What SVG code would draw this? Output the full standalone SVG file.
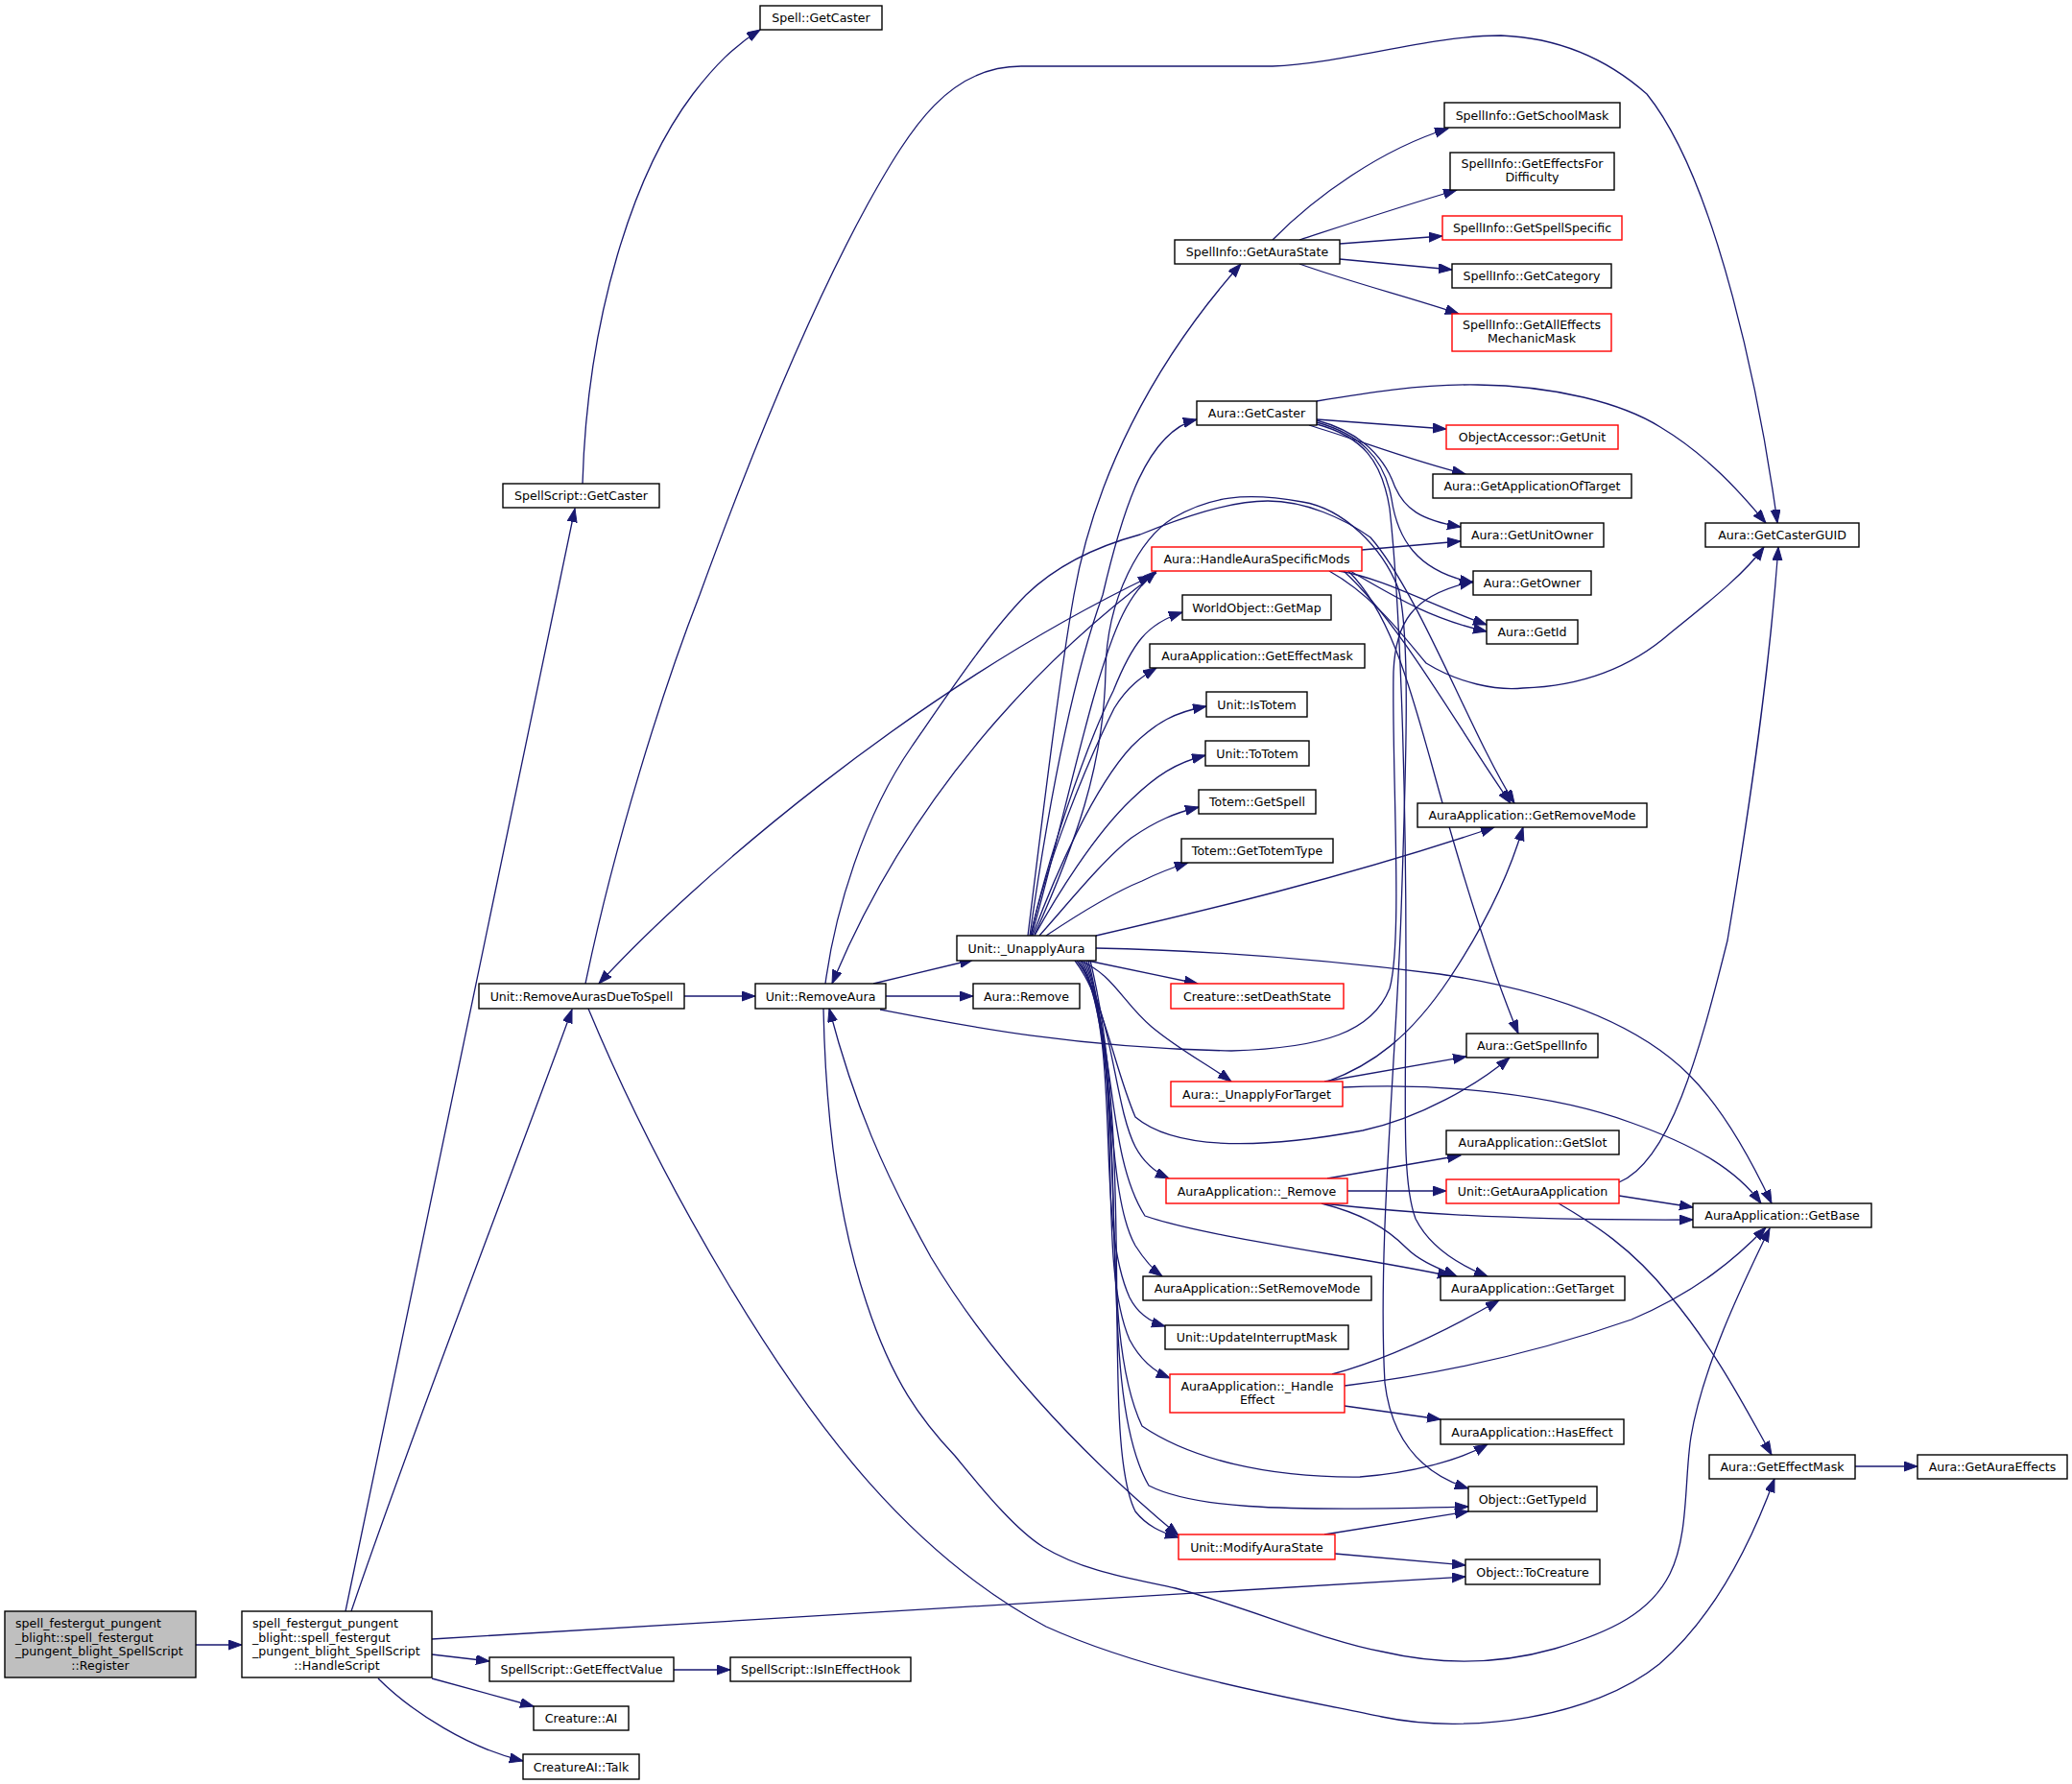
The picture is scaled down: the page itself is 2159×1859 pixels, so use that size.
<svg xmlns="http://www.w3.org/2000/svg" width="2159" height="1859" viewBox="0 0 2159 1859">
<defs>
<marker id="ah" markerWidth="15" markerHeight="11" refX="14" refY="5" orient="auto" markerUnits="userSpaceOnUse"><path d="M0,0 L14,5 L0,10 z" fill="#191970" stroke="#191970" stroke-width="1"/></marker>
<marker id="as" markerWidth="15" markerHeight="11" refX="14" refY="5" orient="auto-start-reverse" markerUnits="userSpaceOnUse"><path d="M0,0 L14,5 L0,10 z" fill="#191970" stroke="#191970" stroke-width="1"/></marker>
</defs>
<style>
.n rect{fill:#fff;stroke:#000;stroke-width:1.4}
.r rect{stroke:#ff0000}
.g rect{fill:#bfbfbf}
text{font-family:"DejaVu Sans","Liberation Sans",sans-serif;font-size:12.6px;fill:#000;text-anchor:middle}
text.l{text-anchor:start}
#edges path{fill:none;stroke:#191970;stroke-width:1.3;marker-end:url(#ah)}
#edges path.b{marker-start:url(#as)}
</style>
<rect width="2159" height="1859" fill="#fff"/>
<g id="edges">
<path d="M204,1714 L252,1714"/>
<path d="M360,1679 L599,530"/>
<path d="M607,504 C612,330 660,180 722,98 C745,68 765,48 792,31"/>
<path d="M366,1679 C430,1490 550,1180 596,1052"/>
<path d="M450,1708 L1527,1643"/>
<path d="M450,1724 L510,1731"/>
<path d="M450,1749 L556,1778"/>
<path d="M394,1749 C430,1785 490,1822 545,1835"/>
<path d="M702,1740 L761,1740"/>
<path d="M713,1038 L787,1038"/>
<path d="M610,1025 C640,880 690,720 729,620 C780,480 840,330 904,213 C950,130 990,69 1064,69 L1326,69 C1400,66 1490,37 1564,37 C1640,40 1690,75 1716,98 C1790,190 1835,420 1852,545"/>
<path d="M613,1051 C650,1140 700,1240 760,1340 C850,1490 950,1620 1090,1695 C1200,1745 1350,1770 1440,1789 C1530,1808 1660,1790 1729,1734 C1780,1690 1820,1620 1849,1541"/>
<path d="M1933,1528 L1998,1528"/>
<path d="M910,1025 L1014,1000"/>
<path d="M923,1038 L1014,1038"/>
<path d="M917,1052 C1000,1068 1120,1092 1283,1095 C1380,1092 1430,1075 1448,1030 C1462,980 1450,800 1452,700 C1454,650 1470,620 1535,606"/>
<path d="M1326,250 C1370,205 1440,155 1509,134"/>
<path d="M1354,250 C1400,235 1460,215 1518,198"/>
<path d="M1396,254 L1503,246"/>
<path d="M1396,270 L1513,281"/>
<path d="M1354,275 C1410,295 1470,310 1520,327"/>
<path d="M1071,975 C1090,820 1105,700 1119,620 C1140,500 1200,380 1293,275"/>
<path d="M1073,975 C1095,820 1120,700 1149,620 C1170,530 1195,450 1247,437"/>
<path d="M1075,975 C1110,850 1140,700 1170,640 C1180,620 1190,608 1205,595"/>
<path d="M1074,975 C1090,900 1130,780 1160,720 C1180,670 1195,650 1232,638"/>
<path d="M1074,975 C1090,900 1130,800 1161,738 C1175,715 1190,705 1205,696"/>
<path d="M1076,975 C1100,910 1140,820 1179,778 C1205,752 1225,742 1257,736"/>
<path d="M1078,975 C1100,935 1140,870 1179,833 C1205,808 1225,795 1256,787"/>
<path d="M1083,975 C1110,945 1150,895 1179,873 C1205,855 1225,847 1249,841"/>
<path d="M1090,975 C1120,955 1160,930 1190,918 C1210,908 1225,903 1238,899"/>
<path d="M1142,975 C1250,950 1400,915 1557,862"/>
<path d="M1078,974 C1120,880 1150,800 1152,700 C1153,620 1190,560 1222,540 C1260,518 1296,512 1357,523 C1400,530 1440,570 1457,613 C1470,660 1465,800 1460,950 C1455,1100 1435,1300 1443,1441 C1450,1500 1480,1535 1530,1551"/>
<path d="M860,1025 C870,950 900,850 950,778 C990,720 1030,660 1069,620 C1100,590 1140,570 1188,557 C1230,540 1280,522 1321,522 C1360,522 1400,540 1428,560 C1480,620 1530,760 1578,837"/>
<path d="M1205,597 C1120,660 960,800 867,1025"/>
<path class="b" d="M624,1025 C720,920 950,720 1200,600"/>
<path d="M1133,1001 L1248,1025"/>
<path d="M1125,1001 C1160,1015 1170,1045 1200,1070 C1230,1095 1260,1110 1283,1127"/>
<path d="M1120,1001 C1150,1040 1160,1110 1183,1164 C1220,1195 1300,1200 1420,1178 C1480,1165 1540,1130 1573,1102"/>
<path d="M1122,1001 C1160,1050 1160,1150 1183,1195 C1192,1212 1205,1222 1218,1228"/>
<path d="M1124,1001 C1165,1070 1150,1200 1193,1267 C1260,1290 1420,1310 1512,1330"/>
<path d="M1126,1001 C1165,1080 1150,1240 1183,1298 C1192,1312 1200,1322 1211,1330"/>
<path d="M1128,1001 C1170,1100 1140,1270 1177,1352 C1185,1368 1197,1377 1214,1382"/>
<path d="M1130,1001 C1175,1120 1140,1310 1177,1396 C1187,1415 1200,1428 1219,1436"/>
<path d="M1132,1001 C1180,1150 1140,1380 1190,1486 C1240,1520 1320,1540 1417,1539 C1470,1535 1520,1522 1550,1505"/>
<path d="M1134,1001 C1180,1180 1140,1450 1197,1548 C1240,1570 1320,1576 1530,1570"/>
<path d="M1136,1001 C1185,1200 1145,1500 1183,1575 C1195,1590 1210,1597 1228,1602"/>
<path d="M1142,988 C1250,990 1380,1000 1500,1015 C1600,1030 1700,1060 1760,1120 C1800,1160 1830,1220 1846,1254"/>
<path class="b" d="M1228,1600 C1120,1510 1030,1410 970,1310 C920,1220 890,1150 864,1051"/>
<path d="M1380,1599 L1530,1575"/>
<path d="M1391,1619 L1527,1631"/>
<path d="M858,1051 C860,1150 870,1260 903,1358 C930,1440 960,1480 995,1517 C1030,1560 1060,1595 1087,1612 C1130,1638 1180,1645 1225,1655 C1300,1675 1380,1710 1440,1721 C1500,1735 1560,1735 1620,1718 C1680,1700 1720,1680 1740,1640 C1760,1600 1755,1540 1762,1497 C1775,1420 1820,1330 1844,1280"/>
<path d="M1372,418 C1420,410 1480,400 1540,401 C1620,402 1690,420 1730,445 C1780,475 1815,515 1840,545"/>
<path d="M1372,437 L1507,447"/>
<path d="M1364,443 C1420,460 1470,480 1527,494"/>
<path d="M1372,438 C1410,448 1440,470 1453,506 C1463,530 1480,542 1522,549"/>
<path d="M1372,440 C1415,452 1442,475 1450,520 C1456,560 1475,595 1535,607"/>
<path d="M1372,442 C1420,455 1440,480 1448,530 C1458,620 1465,800 1465,1000 C1465,1150 1460,1230 1475,1270 C1490,1300 1520,1318 1550,1330"/>
<path d="M1419,573 L1522,564"/>
<path d="M1395,595 C1440,602 1490,630 1549,651"/>
<path d="M1407,595 C1450,620 1490,645 1549,658"/>
<path d="M1400,595 C1460,650 1520,760 1574,837"/>
<path d="M1405,595 C1450,640 1470,720 1490,790 C1520,900 1550,1000 1582,1077"/>
<path d="M1385,595 C1430,620 1460,660 1486,691 C1520,712 1560,720 1587,717 C1650,715 1700,695 1740,660 C1790,620 1820,595 1838,570"/>
<path d="M1383,1127 C1430,1110 1470,1080 1510,1020 C1540,975 1570,920 1587,862"/>
<path d="M1380,1127 L1528,1101"/>
<path d="M1399,1133 C1500,1128 1620,1140 1700,1170 C1770,1195 1810,1220 1835,1254"/>
<path d="M1383,1228 L1522,1204"/>
<path d="M1404,1241 L1507,1241"/>
<path d="M1377,1254 C1450,1262 1550,1272 1764,1271"/>
<path d="M1377,1254 C1420,1265 1445,1280 1465,1300 C1480,1315 1500,1322 1518,1330"/>
<path d="M1687,1232 C1740,1210 1770,1100 1800,980 C1830,800 1845,680 1853,570"/>
<path d="M1687,1246 L1764,1258"/>
<path d="M1624,1254 C1660,1275 1700,1300 1740,1350 C1790,1410 1820,1470 1846,1516"/>
<path d="M1388,1432 C1450,1415 1510,1385 1562,1355"/>
<path d="M1401,1444 C1500,1432 1600,1410 1700,1375 C1770,1345 1810,1310 1840,1279"/>
<path d="M1401,1465 L1501,1479"/>
</g>
<g id="n_register" class="n g"><rect x="5" y="1679" width="199" height="69"/><text class="l" x="16" y="1696">spell_festergut_pungent</text><text class="l" x="16" y="1710.5">_blight::spell_festergut</text><text class="l" x="16" y="1725">_pungent_blight_SpellScript</text><text x="104.5" y="1740">::Register</text></g>
<g id="n_handlescript" class="n"><rect x="252" y="1679" width="198" height="69"/><text class="l" x="263" y="1696">spell_festergut_pungent</text><text class="l" x="263" y="1710.5">_blight::spell_festergut</text><text class="l" x="263" y="1725">_pungent_blight_SpellScript</text><text x="351" y="1740">::HandleScript</text></g>
<g id="n_ss_getcaster" class="n"><rect x="524" y="504" width="163" height="25"/><text x="605.5" y="521">SpellScript::GetCaster</text></g>
<g id="n_spell_getcaster" class="n"><rect x="792" y="6" width="127" height="25"/><text x="855.5" y="23">Spell::GetCaster</text></g>
<g id="n_getaurastate" class="n"><rect x="1224" y="250" width="172" height="25"/><text x="1310" y="267">SpellInfo::GetAuraState</text></g>
<g id="n_schoolmask" class="n"><rect x="1505" y="107" width="183" height="26"/><text x="1596.5" y="124.5">SpellInfo::GetSchoolMask</text></g>
<g id="n_effectsfordiff" class="n"><rect x="1511" y="159" width="171" height="39"/><text x="1596.5" y="175">SpellInfo::GetEffectsFor</text><text x="1596.5" y="189">Difficulty</text></g>
<g id="n_spellspecific" class="n r"><rect x="1503" y="225" width="187" height="25"/><text x="1596.5" y="242">SpellInfo::GetSpellSpecific</text></g>
<g id="n_category" class="n"><rect x="1513" y="275" width="166" height="25"/><text x="1596" y="292">SpellInfo::GetCategory</text></g>
<g id="n_alleffects" class="n r"><rect x="1513" y="327" width="166" height="39"/><text x="1596" y="343">SpellInfo::GetAllEffects</text><text x="1596" y="357">MechanicMask</text></g>
<g id="n_aura_getcaster" class="n"><rect x="1247" y="418" width="125" height="25"/><text x="1309.5" y="435">Aura::GetCaster</text></g>
<g id="n_objacc_getunit" class="n r"><rect x="1507" y="443" width="179" height="25"/><text x="1596.5" y="460">ObjectAccessor::GetUnit</text></g>
<g id="n_appoftarget" class="n"><rect x="1493" y="494" width="207" height="25"/><text x="1596.5" y="511">Aura::GetApplicationOfTarget</text></g>
<g id="n_unitowner" class="n"><rect x="1522" y="545" width="149" height="25"/><text x="1596.5" y="562">Aura::GetUnitOwner</text></g>
<g id="n_casterguid" class="n"><rect x="1777" y="545" width="160" height="25"/><text x="1857" y="562">Aura::GetCasterGUID</text></g>
<g id="n_getowner" class="n"><rect x="1535" y="595" width="123" height="25"/><text x="1596.5" y="612">Aura::GetOwner</text></g>
<g id="n_mods" class="n r"><rect x="1200" y="570" width="219" height="25"/><text x="1309.5" y="587">Aura::HandleAuraSpecificMods</text></g>
<g id="n_getmap" class="n"><rect x="1232" y="620" width="155" height="26"/><text x="1309.5" y="637.5">WorldObject::GetMap</text></g>
<g id="n_app_effmask" class="n"><rect x="1198" y="671" width="224" height="25"/><text x="1310" y="688">AuraApplication::GetEffectMask</text></g>
<g id="n_istotem" class="n"><rect x="1257" y="721" width="105" height="26"/><text x="1309.5" y="738.5">Unit::IsTotem</text></g>
<g id="n_tototem" class="n"><rect x="1256" y="772" width="108" height="26"/><text x="1310" y="789.5">Unit::ToTotem</text></g>
<g id="n_totem_getspell" class="n"><rect x="1249" y="823" width="122" height="25"/><text x="1310" y="840">Totem::GetSpell</text></g>
<g id="n_totemtype" class="n"><rect x="1231" y="874" width="158" height="25"/><text x="1310" y="891">Totem::GetTotemType</text></g>
<g id="n_getid" class="n"><rect x="1549" y="646" width="95" height="25"/><text x="1596.5" y="663">Aura::GetId</text></g>
<g id="n_removemode" class="n"><rect x="1477" y="837" width="239" height="25"/><text x="1596.5" y="854">AuraApplication::GetRemoveMode</text></g>
<g id="n_unapplyaura" class="n"><rect x="997" y="975" width="145" height="26"/><text x="1069.5" y="992.5">Unit::_UnapplyAura</text></g>
<g id="n_removeaura" class="n"><rect x="787" y="1025" width="136" height="26"/><text x="855" y="1042.5">Unit::RemoveAura</text></g>
<g id="n_aura_remove" class="n"><rect x="1014" y="1025" width="111" height="26"/><text x="1069.5" y="1042.5">Aura::Remove</text></g>
<g id="n_deathstate" class="n r"><rect x="1220" y="1025" width="180" height="26"/><text x="1310" y="1042.5">Creature::setDeathState</text></g>
<g id="n_rads" class="n"><rect x="499" y="1025" width="214" height="26"/><text x="606" y="1042.5">Unit::RemoveAurasDueToSpell</text></g>
<g id="n_unapplyfortarget" class="n r"><rect x="1220" y="1127" width="179" height="26"/><text x="1309.5" y="1144.5">Aura::_UnapplyForTarget</text></g>
<g id="n_spellinfo" class="n"><rect x="1528" y="1077" width="137" height="25"/><text x="1596.5" y="1094">Aura::GetSpellInfo</text></g>
<g id="n_getslot" class="n"><rect x="1507" y="1178" width="180" height="25"/><text x="1597" y="1195">AuraApplication::GetSlot</text></g>
<g id="n_app_remove" class="n r"><rect x="1215" y="1228" width="189" height="26"/><text x="1309.5" y="1245.5">AuraApplication::_Remove</text></g>
<g id="n_getauraapp" class="n r"><rect x="1507" y="1229" width="180" height="25"/><text x="1597" y="1246">Unit::GetAuraApplication</text></g>
<g id="n_getbase" class="n"><rect x="1764" y="1254" width="186" height="25"/><text x="1857" y="1271">AuraApplication::GetBase</text></g>
<g id="n_setremovemode" class="n"><rect x="1191" y="1330" width="238" height="25"/><text x="1310" y="1347">AuraApplication::SetRemoveMode</text></g>
<g id="n_gettarget" class="n"><rect x="1501" y="1330" width="192" height="25"/><text x="1597" y="1347">AuraApplication::GetTarget</text></g>
<g id="n_updateint" class="n"><rect x="1214" y="1381" width="191" height="25"/><text x="1309.5" y="1398">Unit::UpdateInterruptMask</text></g>
<g id="n_handleeffect" class="n r"><rect x="1219" y="1432" width="182" height="40"/><text x="1310" y="1448.5">AuraApplication::_Handle</text><text x="1310" y="1463">Effect</text></g>
<g id="n_haseffect" class="n"><rect x="1501" y="1479" width="191" height="26"/><text x="1596.5" y="1496.5">AuraApplication::HasEffect</text></g>
<g id="n_effectmask" class="n"><rect x="1781" y="1516" width="152" height="25"/><text x="1857" y="1533">Aura::GetEffectMask</text></g>
<g id="n_auraeffects" class="n"><rect x="1998" y="1516" width="156" height="25"/><text x="2076" y="1533">Aura::GetAuraEffects</text></g>
<g id="n_typeid" class="n"><rect x="1530" y="1549" width="134" height="26"/><text x="1597" y="1566.5">Object::GetTypeId</text></g>
<g id="n_modifyaurastate" class="n r"><rect x="1228" y="1599" width="163" height="26"/><text x="1309.5" y="1616.5">Unit::ModifyAuraState</text></g>
<g id="n_tocreature" class="n"><rect x="1527" y="1625" width="140" height="26"/><text x="1597" y="1642.5">Object::ToCreature</text></g>
<g id="n_geteffectvalue" class="n"><rect x="510" y="1727" width="192" height="25"/><text x="606" y="1744">SpellScript::GetEffectValue</text></g>
<g id="n_isineffecthook" class="n"><rect x="761" y="1727" width="188" height="25"/><text x="855" y="1744">SpellScript::IsInEffectHook</text></g>
<g id="n_creature_ai" class="n"><rect x="556" y="1778" width="99" height="25"/><text x="605.5" y="1795">Creature::AI</text></g>
<g id="n_talk" class="n"><rect x="545" y="1828" width="121" height="26"/><text x="605.5" y="1845.5">CreatureAI::Talk</text></g>
</svg>
